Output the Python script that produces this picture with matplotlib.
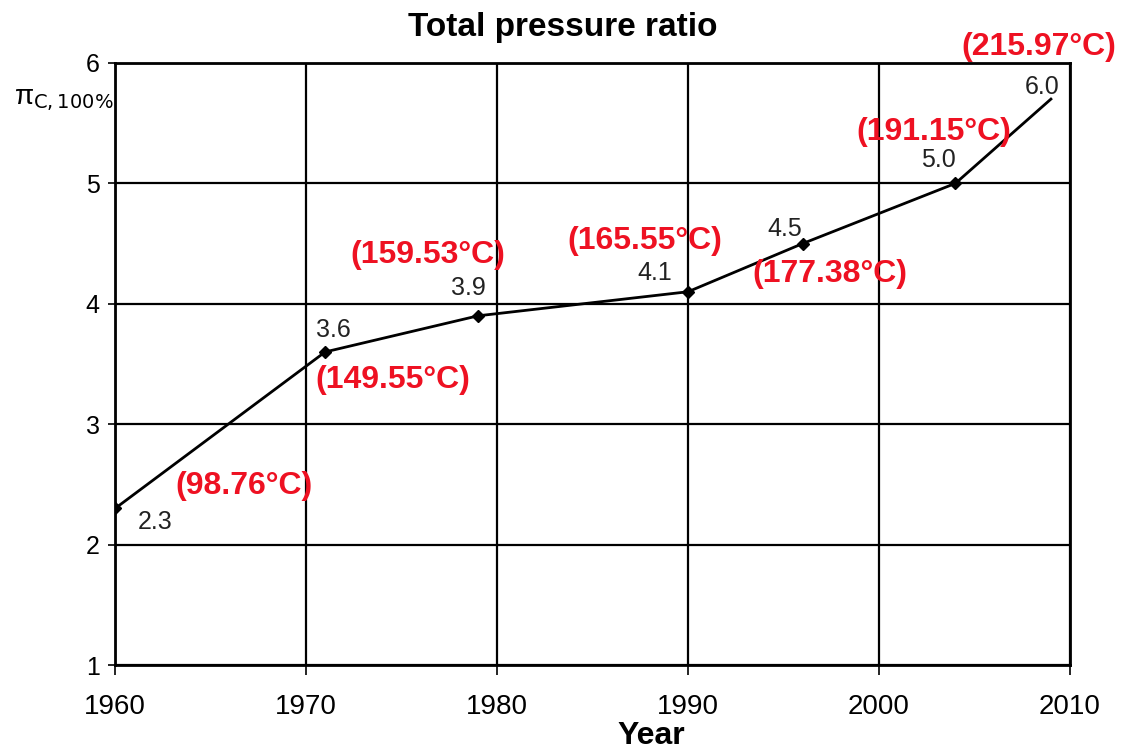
import matplotlib
matplotlib.use('Agg')
import matplotlib.pyplot as plt

# Total pressure ratio over the years
years = [1960, 1971, 1979, 1990, 1996, 2004, 2009]
ratio = [2.3, 3.6, 3.9, 4.1, 4.5, 5.0, 5.7]
ratio_labels = ['2.3', '3.6', '3.9', '4.1', '4.5', '5.0', '6.0']
temp_labels = ['(98.76°C)', '(149.55°C)', '(159.53°C)', '(165.55°C)',
               '(177.38°C)', '(191.15°C)', '(215.97°C)']

x_ticks = [1960, 1970, 1980, 1990, 2000, 2010]
y_ticks = [1, 2, 3, 4, 5, 6]

plt.rcParams['font.family'] = ['Liberation Sans', 'DejaVu Sans']

fig = plt.figure(figsize=(11.28, 7.55), dpi=100)
ax = fig.add_axes([0.102, 0.1192, 0.8466, 0.7974])

# line with diamond markers (none on the last point)
ax.plot(years, ratio, color='black', lw=2, marker='D', markersize=6,
        markevery=list(range(len(years) - 1)), zorder=3)

ax.set_xlim(1960, 2010)
ax.set_ylim(1, 6)
ax.set_xticks(x_ticks)
ax.set_yticks(y_ticks)
ax.grid(True, color='black', lw=1.6)
for s in ax.spines.values():
    s.set_linewidth(2)
ax.tick_params(axis='x', direction='out', length=7, width=1.2, labelsize=20, pad=14)
ax.tick_params(axis='y', direction='out', length=5, width=1.2, labelsize=18, pad=6)

# label offsets in pixels from each point
black_off = [(40, -14), (8, 22), (-10, 28), (-33, 19), (-18, 15), (-17, 23), (-9, 12)]
red_off = [(129, 22), (68, -28), (-50, 61), (-43, 51), (27, -30), (-22, 51), (-12, 52)]

for i in range(len(years)):
    ax.annotate(ratio_labels[i], (years[i], ratio[i]), xytext=black_off[i],
                textcoords='offset pixels', ha='center', va='center',
                fontsize=18, color='#222222', annotation_clip=False)
    ax.annotate(temp_labels[i], (years[i], ratio[i]), xytext=red_off[i],
                textcoords='offset pixels', ha='center', va='center',
                fontsize=23, fontweight='bold', color='#ee1122',
                annotation_clip=False)

fig.text(0.499, 0.963, 'Total pressure ratio', ha='center', va='center',
         fontsize=24, fontweight='bold')
fig.text(0.577, 0.014, 'Year', ha='center', va='baseline',
         fontsize=23, fontweight='bold')
fig.text(0.012, 0.867, r'π$_{\mathrm{C,100\%}}$', ha='left', va='center',
         fontsize=20)

fig.savefig('out.png', dpi=100)
